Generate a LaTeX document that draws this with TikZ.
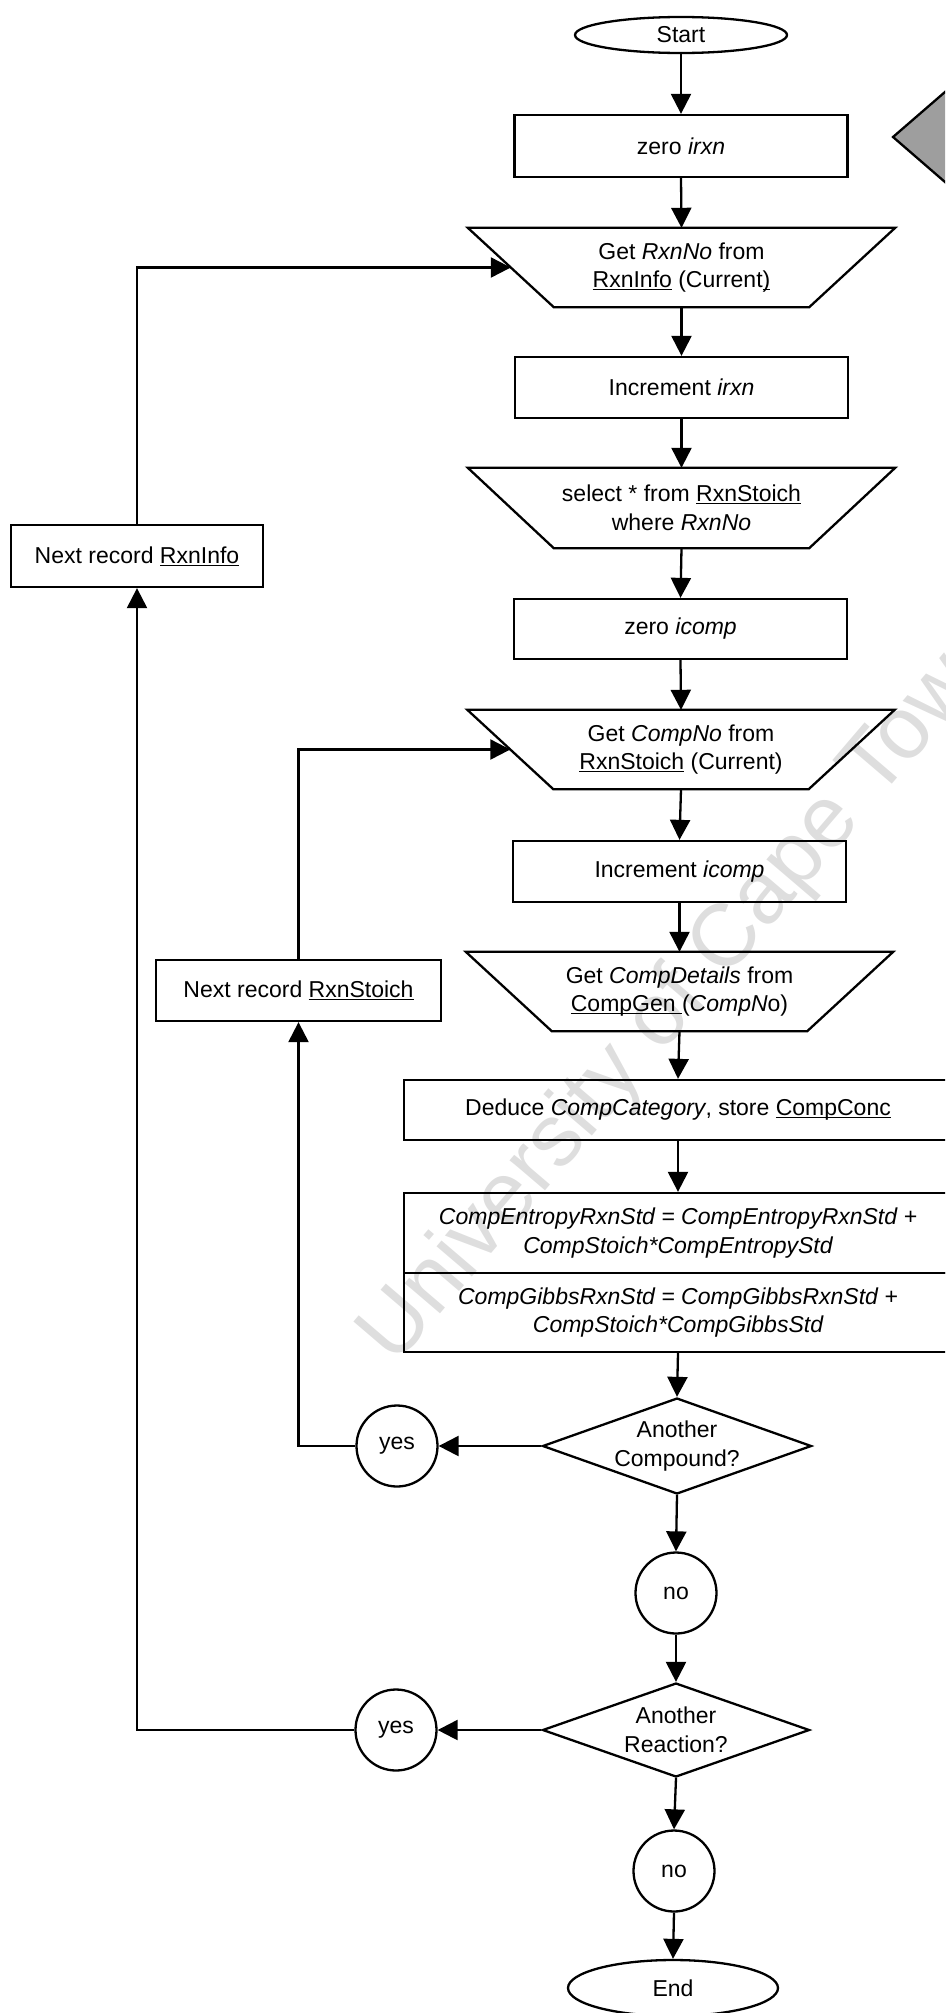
\documentclass[tikz,border=0pt]{standalone}
\usepackage{fontspec}
\setmainfont{Liberation Sans}
\usetikzlibrary{shapes.geometric,arrows.meta}
% underline that ignores descenders, so the rule sits just below the baseline
\newcommand\ulx[1]{\underline{\smash{#1}}}

\begin{document}
\begin{tikzpicture}[x=1pt,y=-1pt,
  every node/.style={font=\fontsize{23}{28.5}\selectfont, inner sep=0pt, align=center},
  shapeline/.style={draw=black, line width=2.3pt},
  procbox/.style={shapeline, rectangle, minimum width=333pt, minimum height=61pt},
  widebox/.style={shapeline, rectangle, minimum width=548pt},
  iobox/.style={rectangle, minimum width=341pt, minimum height=79pt},
  terminal/.style={shapeline, ellipse, minimum width=212pt, minimum height=36pt},
  decision/.style={shapeline, diamond, minimum width=269pt, minimum height=96pt},
  answer/.style={shapeline, circle, minimum size=81pt},
  calctext/.style={font=\fontsize{23}{28.5}\selectfont\itshape},
  flow/.style={line width=2.3pt, -{Triangle[length=20pt,width=20pt]}},
]
\useasboundingbox (0,0) rectangle (945,2013);
\clip (0,0) rectangle (945,2013);

% faint diagonal watermark behind the chart
\node[rotate=49.5, anchor=base west, font=\fontsize{88}{88}\selectfont, text=black!13]
  (wm) at (395,1367) {University of Cape Town};

% off-page connector at the top right
\draw[shapeline, fill=black!38] (893,137) -- (975,66) -- (1057,137) -- (975,208) -- cycle;

% main column
\node[terminal] (start) at (681,35) {Start};
\node[procbox, minimum height=62pt] (zirxn) at (681,146) {zero \textit{irxn}};
\node[iobox] (t1) at (681.5,267.5) {Get \textit{RxnNo} from\\\ulx{RxnInfo} (Current\ulx{)}};
\node[procbox] (incirxn) at (681.5,387.5) {Increment \textit{irxn}};
\node[iobox, minimum height=80pt] (t2) at (681.5,508) {select * from \ulx{RxnStoich}\\where \textit{RxnNo}};
\node[procbox, minimum height=60pt] (zicomp) at (680.5,629) {zero \textit{icomp}};
\node[iobox] (t3) at (681,749.5) {Get \textit{CompNo} from\\\ulx{RxnStoich} (Current)};
\node[procbox] (incicomp) at (679.5,871.5) {Increment \textit{icomp}};
\node[iobox] (t4) at (679.5,991.5) {Get \textit{CompDetails} from\\\ulx{CompGen\ }(\textit{CompN}o)};
\node[widebox, minimum height=60pt] (deduce) at (678,1110) {Deduce \textit{CompCategory}, store \ulx{CompConc}};
\node[widebox, calctext, minimum height=80pt] (entropy) at (678,1233)
  {CompEntropyRxnStd = CompEntropyRxnStd +\\CompStoich*CompEntropyStd};
\node[widebox, calctext, minimum height=79pt] (gibbs) at (678,1312.5)
  {CompGibbsRxnStd = CompGibbsRxnStd +\\CompStoich*CompGibbsStd};
\node[decision] (d1) at (677,1446) {};
\node (d1txt) at (d1.center) {Another\\Compound?};
\node[answer] (no1) at (676,1593) {no};
\node[decision, minimum width=267pt, minimum height=94pt] (d2) at (676,1730) {};
\node (d2txt) at (d2.center) {Another\\Reaction?};
\node[answer] (no2) at (674,1871) {no};
\node[terminal, minimum width=210pt, minimum height=56pt] (end) at (673,1988) {End};

% input/output trapezia drawn round their text nodes
\foreach \t in {t1,t2,t3,t4}
  \draw[shapeline] ([xshift=-43pt]\t.north west) -- ([xshift=43pt]\t.north east)
    -- ([xshift=-43pt]\t.south east) -- ([xshift=43pt]\t.south west) -- cycle;

% loop-back nodes
\node[answer] (yes1) at (397,1446) {yes};
\node[answer] (yes2) at (396,1730) {yes};
\node[shapeline, rectangle, minimum width=285pt, minimum height=61pt] (nextstoich) at (298.5,990.5) {Next record \ulx{RxnStoich}};
\node[shapeline, rectangle, minimum width=252pt, minimum height=62pt] (nextinfo) at (137,556) {Next record \ulx{RxnInfo}};

% main flow
\draw[flow] (start.south) -- (zirxn.north);
\draw[flow] (zirxn.south) -- (t1.north);
\draw[flow] (t1.south) -- (incirxn.north);
\draw[flow] (incirxn.south) -- (t2.north);
\draw[flow] (t2.south) -- (zicomp.north);
\draw[flow] (zicomp.south) -- (t3.north);
\draw[flow] (t3.south) -- (incicomp.north);
\draw[flow] (incicomp.south) -- (t4.north);
\draw[flow] (t4.south) -- (deduce.north);
\draw[flow] (deduce.south) -- (entropy.north);
\draw[flow] (gibbs.south) -- (d1.north);
\draw[flow] (d1.south) -- (no1.north);
\draw[flow] (no1.south) -- (d2.north);
\draw[flow] (d2.south) -- (no2.north);
\draw[flow] (no2.south) -- (end.north);

% loops
\draw[flow] (d1.west) -- (yes1.east);
\draw[flow] (d2.west) -- (yes2.east);
\draw[flow] (yes1.west) -| (nextstoich.south);
\draw[flow] (nextstoich.north) |- (t3.west);
\draw[flow] (yes2.west) -| (nextinfo.south);
\draw[flow] (nextinfo.north) |- (t1.west);
\end{tikzpicture}
\end{document}
